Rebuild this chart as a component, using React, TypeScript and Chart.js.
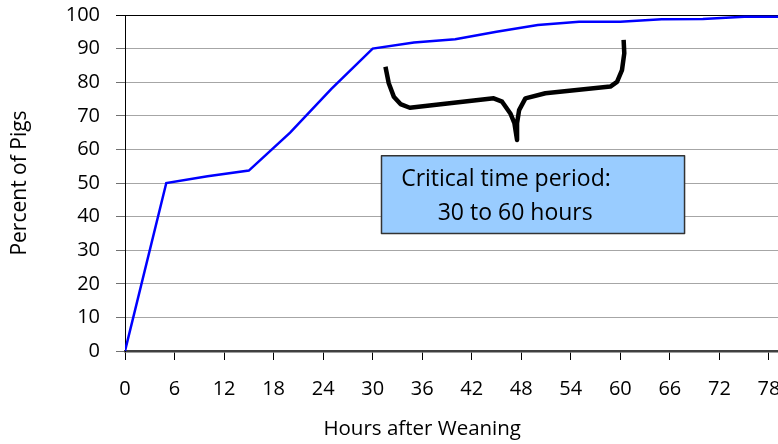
import React, { useEffect, useRef } from "react";
import { Chart, registerables } from "chart.js";

Chart.register(...registerables);

// ---- data ----
const hours = [0, 5, 10, 15, 20, 25, 30, 35, 40, 45, 50, 55, 60, 65, 70, 75, 80];
const percentPigs = [0, 50, 52, 53.7, 65, 78, 90, 91.8, 92.8, 95, 97, 98, 98, 98.7, 98.8, 99.5, 99.5];

const xMin = 0;
const xMax = 79.1;
const xStep = 6;
const yMin = 0;
const yMax = 100;
const yStep = 10;

const xTitle = "Hours after Weaning";
const yTitle = "Percent of Pigs";
const xTitleCenterHour = 36;

const noteLines = ["Critical time period:", "30 to 60 hours"];
const noteBoxHours = [31.07, 67.78];
const noteBoxValues = [58.1, 35.0];
const noteTextHours = [33.45, 37.88];
const noteTextValues = [51.2, 40.8];

// curly brace annotation, in data space (hours, percent)
const braceHours = [31.55, 31.95, 32.56, 33.37, 34.5, 44.66, 45.68, 46.68, 47.17, 47.49, 47.49, 47.74, 48.5, 50.92, 58.79, 59.6, 60.2, 60.48, 60.4];
const braceValues = [84.6, 79.7, 75.7, 73.5, 72.4, 75.2, 74.2, 70.7, 67.8, 62.8, 67.8, 71.7, 75.2, 76.7, 78.7, 80.1, 83.6, 88.6, 92.6];

const FONT = '"Open Sans", "Noto Sans", sans-serif';

const notesPlugin = {
  id: "notes",
  afterDatasetsDraw(chart: any) {
    const { ctx } = chart;
    const x = chart.scales.x;
    const y = chart.scales.y;
    ctx.save();
    // brace
    ctx.beginPath();
    braceHours.forEach((h, i) => {
      const px = x.getPixelForValue(h);
      const py = y.getPixelForValue(braceValues[i]);
      if (i === 0) ctx.moveTo(px, py);
      else ctx.lineTo(px, py);
    });
    ctx.lineWidth = 4.5;
    ctx.strokeStyle = "#000000";
    ctx.lineJoin = "round";
    ctx.lineCap = "butt";
    ctx.stroke();

    // note box
    const bx0 = x.getPixelForValue(noteBoxHours[0]);
    const bx1 = x.getPixelForValue(noteBoxHours[1]);
    const by0 = y.getPixelForValue(noteBoxValues[0]);
    const by1 = y.getPixelForValue(noteBoxValues[1]);
    ctx.fillStyle = "#99ccff";
    ctx.fillRect(bx0, by0, bx1 - bx0, by1 - by0);
    ctx.lineWidth = 1.5;
    ctx.strokeStyle = "#333333";
    ctx.strokeRect(bx0, by0, bx1 - bx0, by1 - by0);

    ctx.font = `23px ${FONT}`;
    ctx.fillStyle = "#000000";
    ctx.textAlign = "left";
    ctx.textBaseline = "middle";
    noteLines.forEach((t, i) => {
      ctx.fillText(t, x.getPixelForValue(noteTextHours[i]), y.getPixelForValue(noteTextValues[i]));
    });
    ctx.restore();
  },
  afterDraw(chart: any) {
    const { ctx } = chart;
    const x = chart.scales.x;
    ctx.save();
    ctx.font = `20.5px ${FONT}`;
    ctx.fillStyle = "#000000";
    ctx.textAlign = "center";
    ctx.textBaseline = "middle";
    ctx.fillText(xTitle, x.getPixelForValue(xTitleCenterHour), chart.height - 15);
    ctx.restore();
  },
};

export default function App() {
  const ref = useRef<HTMLCanvasElement | null>(null);

  useEffect(() => {
    document.body.style.margin = "0";
    const canvas = ref.current;
    if (!canvas) return;
    const chart = new Chart(canvas, {
      type: "line",
      data: {
        datasets: [
          {
            label: yTitle,
            data: hours.map((h, i) => ({ x: h, y: percentPigs[i] })),
            borderColor: "#0000ff",
            backgroundColor: "#0000ff",
            borderWidth: 2.5,
            pointRadius: 0,
            tension: 0,
            fill: false,
          },
        ],
      },
      options: {
        responsive: false,
        animation: false,
        devicePixelRatio: 1,
        layout: { padding: { top: 15, left: 0, right: 0, bottom: 0 } },
        plugins: {
          legend: { display: false },
          tooltip: { enabled: false },
        },
        scales: {
          x: {
            type: "linear",
            min: xMin,
            max: xMax,
            ticks: {
              stepSize: xStep,
              includeBounds: false,
              autoSkip: false,
              maxRotation: 0,
              color: "#000000",
              font: { family: FONT, size: 20 },
              padding: 17.5,
            },
            grid: {
              drawOnChartArea: false,
              drawTicks: true,
              tickLength: 9,
              tickColor: "#000000",
              tickWidth: 1,
            },
            border: { display: true, color: "#404040", width: 2.5 },
            afterFit(scale: any) {
              scale.height = 93;
              scale.paddingLeft = 0;
              scale.paddingRight = 0;
            },
          },
          y: {
            type: "linear",
            min: yMin,
            max: yMax,
            ticks: {
              stepSize: yStep,
              color: "#000000",
              font: { family: FONT, size: 20 },
              padding: 16,
            },
            grid: {
              color: (c: any) =>
                c.tick && c.tick.value === yMax ? "#000000" : c.tick && c.tick.value === yMin ? "#404040" : "#a6a6a6",
              tickColor: (c: any) => (c.tick && c.tick.value === yMax ? "#000000" : "#707070"),
              lineWidth: 1,
              tickLength: 9,
            },
            border: { display: true, color: "#000000", width: 1 },
            title: {
              display: true,
              text: yTitle,
              color: "#000000",
              font: { family: FONT, size: 21 },
              padding: { top: 7, bottom: 0 },
            },
            afterFit(scale: any) {
              scale.width = 125;
              scale.paddingTop = 0;
              scale.paddingBottom = 0;
            },
          },
        },
      },
      plugins: [notesPlugin],
    } as any);
    return () => chart.destroy();
  }, []);

  return (
    <div style={{ width: 778, height: 444, overflow: "hidden" }}>
      <canvas ref={ref} width={778} height={444} style={{ display: "block" }} />
    </div>
  );
}
